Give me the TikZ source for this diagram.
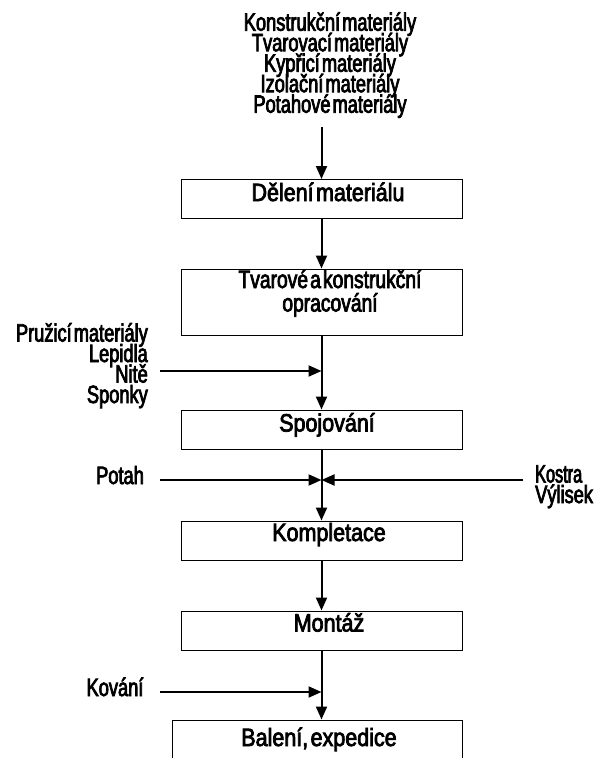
\documentclass[tikz,border=0pt]{standalone}
\usepackage{fontspec}
\setmainfont{Liberation Sans}
\newfontfamily\boxface{Liberation Sans}[FakeStretch=0.86, WordSpace=0.4, FakeBold=3]
\newfontfamily\boxnarrow{Liberation Sans}[FakeStretch=0.77, WordSpace=0.4, FakeBold=3]
\newfontfamily\labface{Liberation Sans}[FakeStretch=0.73, WordSpace=0.4, FakeBold=3]
\newfontfamily\labnarrow{Liberation Sans}[FakeStretch=0.65, WordSpace=0.4, FakeBold=3]
\usetikzlibrary{arrows.meta}
% keep the fixed line pitch even where accents and descenders meet
\newcommand\fixedpitch{\lineskiplimit=-50pt\relax}

\begin{document}
\begin{tikzpicture}[x=1pt, y=-1pt,
  stage/.style={draw, line width=1pt, minimum width=281pt, minimum height=39pt, inner sep=0pt},
  stagetext/.style={inner sep=0pt, anchor=base, align=center,
    font=\boxface\fontsize{25}{23.5}\selectfont\fixedpitch},
  lab/.style={inner sep=0pt, anchor=base, font=\labface\fontsize{25}{20.5}\selectfont\fixedpitch},
  flow/.style={line width=2pt, -{Triangle[width=11pt,length=13pt]}},
]
\useasboundingbox (0,0) rectangle (595,758);
\clip (0,0) rectangle (595,758);

% process stages (frames)
\node[stage] (b1) at (321.5,199) {};
\node[stage, minimum height=66pt] (b2) at (321.5,302) {};
\node[stage] (b3) at (321.5,429.5) {};
\node[stage] (b4) at (321.5,540.5) {};
\node[stage] (b5) at (321.5,630.5) {};
\node[stage, minimum width=290pt, minimum height=60pt] (b6) at (317,750) {};

% process stages (captions, placed on their baselines)
\node[stagetext] (t1) at (328,201) {Dělení materiálu};
\node[stagetext, font=\boxnarrow\fontsize{25}{23.5}\selectfont\fixedpitch] (t2) at (330,311.5) {Tvarové a konstrukční\\opracování};
\node[stagetext] (t3) at (327,431.5) {Spojování};
\node[stagetext] (t4) at (329,541) {Kompletace};
\node[stagetext] (t5) at (329,631.5) {Montáž};
\node[stagetext] (t6) at (319,746) {Balení, expedice};

% material inputs
\node[lab, align=center] (inputs) at (330,112.7) {Konstrukční materiály\\Tvarovací materiály\\Kypřicí materiály\\Izolační materiály\\Potahové materiály};
\node[lab, align=right, anchor=base east] (joinin) at (148,403) {Pružicí materiály\\Lepidla\\Nitě\\Sponky};
\node[lab] (potah) at (120,484) {Potah};
\node[lab, align=left, anchor=base west] (frame) at (535,503) {{\labnarrow Kostra}\\Výlisek};
\node[lab] (kovani) at (115,696) {Kování};

% free ends and junctions of the side feeds
\coordinate (top) at (321.5,127);
\coordinate (f1) at (160,371);
\coordinate (j1) at (321.5,371);
\coordinate (f2) at (160,480);
\coordinate (f3) at (523,480);
\coordinate (j2) at (321.5,480);
\coordinate (f4) at (160,692);
\coordinate (j3) at (321.5,692);

% main flow
\draw[flow] (top) -- (b1);
\draw[flow] (b1) -- (b2);
\draw[flow] (b2) -- (b3);
\draw[flow] (b3) -- (b4);
\draw[flow] (b4) -- (b5);
\draw[flow] (b5) -- (b5.south |- b6.north);

% side feeds
\draw[flow] (f1) -- (j1);
\draw[flow] (f2) -- (j2);
\draw[flow] (f3) -- (j2);
\draw[flow] (f4) -- (j3);
\end{tikzpicture}
\end{document}
